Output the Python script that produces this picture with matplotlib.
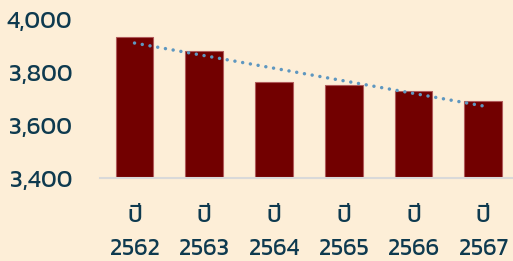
import matplotlib
matplotlib.use('Agg')
import matplotlib.pyplot as plt
import numpy as np

years = ['2562', '2563', '2564', '2565', '2566', '2567']
values = [3933, 3881, 3763, 3754, 3729, 3693]
labels = ['ปี\n' + y for y in years]

bg = '#FDEED7'
txt = '#0E3A4F'

plt.rcParams['font.family'] = ['Kanit', 'DejaVu Sans']

fig = plt.figure(figsize=(5.13, 2.61), dpi=100, facecolor=bg)
ax = fig.add_axes([100 / 513, 1 - 178.3 / 261, 1 - 100 / 513, (178.3 - 19.5) / 261])
ax.set_facecolor(bg)

x = np.arange(len(years))
ax.bar(x, values, width=0.54, bottom=0, color='#720000', edgecolor='#B05A5A', linewidth=0.8, zorder=2)

# linear trend line
coef = np.polyfit(x, values, 1)
ax.plot(x, np.polyval(coef, x), color='#5E97C0', linewidth=2.5,
        linestyle=(0, (0.01, 2.25)), dash_capstyle='round', zorder=3)

ax.set_ylim(3400, 4000)
ax.set_xlim(-0.495, 5.426)
ax.set_yticks([3400, 3600, 3800, 4000])
ax.set_yticklabels(['{:,}'.format(v) for v in [3400, 3600, 3800, 4000]], fontsize=17.5)
ax.set_xticks(x)
ax.set_xticklabels(labels, linespacing=1.68, fontsize=17)

for s in ['top', 'right', 'left']:
    ax.spines[s].set_visible(False)
ax.spines['bottom'].set_color('#D9D9D9')
ax.spines['bottom'].set_linewidth(1.5)
ax.spines['bottom'].set_zorder(4)

ax.tick_params(axis='both', length=0, colors=txt)
ax.tick_params(axis='y', pad=20)
ax.tick_params(axis='x', pad=19)

fig.savefig('out.png', facecolor=bg)
